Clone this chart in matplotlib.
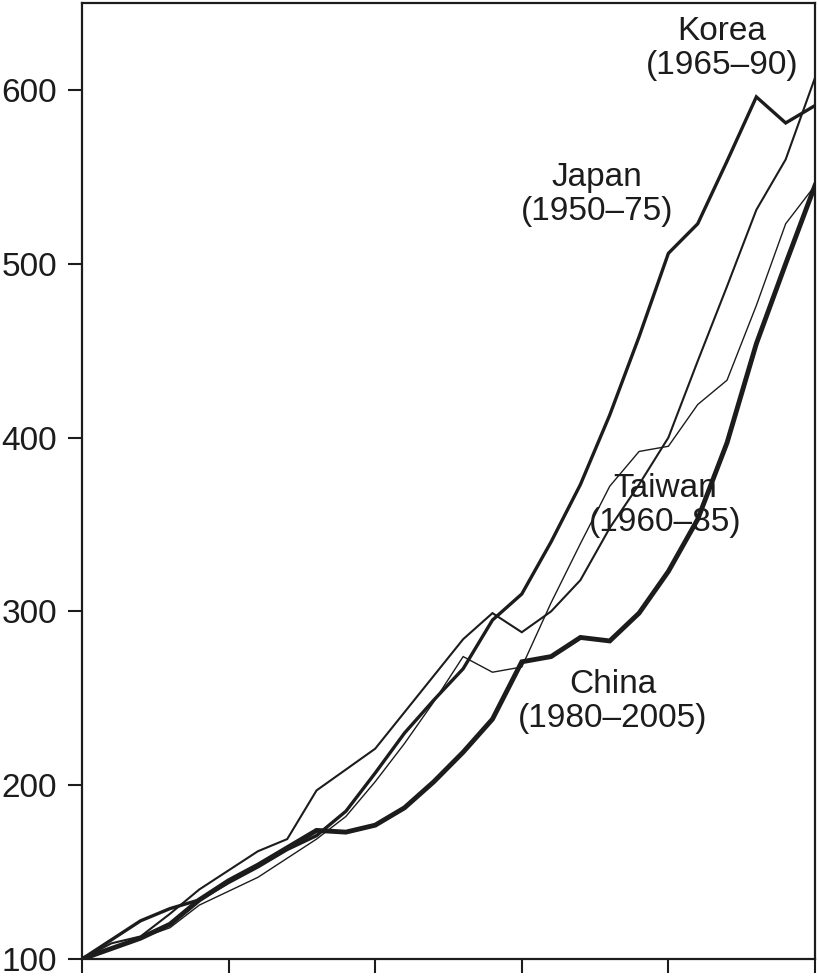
import matplotlib
matplotlib.use("Agg")
import matplotlib.pyplot as plt

plt.rcParams['font.family'] = ['Liberation Sans', 'DejaVu Sans']

years = list(range(26))
japan = [100, 111, 122, 129, 134, 144, 153, 163, 171, 185, 207, 230, 249, 267, 295,
         310, 340, 373, 413, 458, 506, 523, 559, 596, 581, 591]
korea = [100, 109, 113, 126, 140, 151, 162, 169, 197, 209, 221, 242, 263, 284, 299,
         288, 300, 318, 348, 373, 400, 444, 487, 531, 560, 607]
taiwan = [100, 106, 112, 118, 131, 139, 147, 158, 169, 182, 202, 224, 248, 274, 265,
          268, 305, 339, 372, 392, 395, 419, 433, 476, 523, 545]
china = [100, 106, 112, 120, 134, 145, 154, 164, 174, 173, 177, 187, 202, 219, 238,
         271, 274, 285, 283, 299, 323, 353, 397, 454, 500, 545]

labels = ["Japan\n(1950\u201375)", "Korea\n(1965\u201390)",
          "Taiwan\n(1960\u201385)", "China\n(1980\u20132005)"]
yticks = [100, 200, 300, 400, 500, 600]
xticks = [0, 5, 10, 15, 20, 25]

col = "#1c1c1c"
fig = plt.figure(figsize=(8.19, 9.76), dpi=100)
ax = fig.add_axes([0.1001, 0.0174, 0.8950, 0.9795])

ax.plot(years, taiwan, color=col, lw=1.0, solid_joinstyle='miter')
ax.plot(years, korea, color=col, lw=1.5, solid_joinstyle='miter')
ax.plot(years, japan, color=col, lw=2.4, solid_joinstyle='miter')
ax.plot(years, china, color=col, lw=3.5, solid_joinstyle='miter')

ax.set_xlim(0, 25)
ax.set_ylim(100, 650)
ax.set_xticks(xticks)
ax.set_xticklabels([])
ax.set_yticks(yticks)
ax.set_yticklabels([str(v) for v in yticks])
ax.tick_params(direction='out', length=10, width=1.5, colors=col, labelsize=24, pad=8)
for s in ax.spines.values():
    s.set_linewidth(1.6)
    s.set_color(col)

fs = 24
ls = 1.12
ax.text(21.83, 624, labels[1], ha='center', va='center', fontsize=fs, color=col, linespacing=ls)
ax.text(17.57, 540, labels[0], ha='center', va='center', fontsize=fs, color=col, linespacing=ls)
ax.text(19.88, 361, labels[2], ha='center', va='center', fontsize=fs, color=col, linespacing=ls)
ax.text(18.09, 248, labels[3], ha='center', va='center', fontsize=fs, color=col, linespacing=ls)

fig.savefig("out.png", dpi=100)
